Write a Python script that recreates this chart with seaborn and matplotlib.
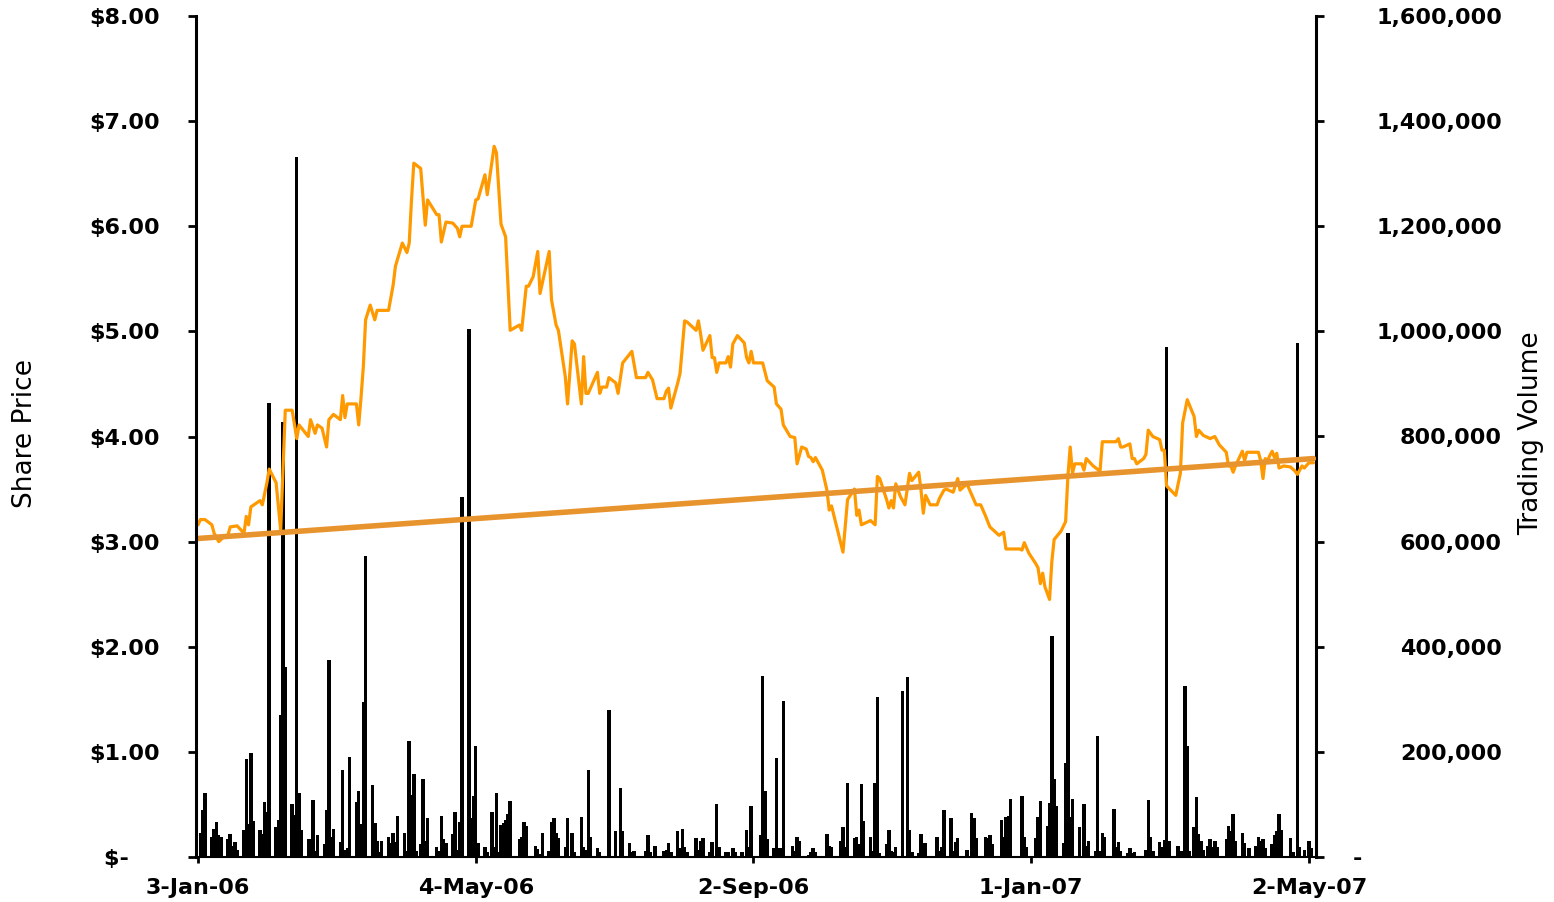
import matplotlib
matplotlib.use("Agg")
import matplotlib.pyplot as plt
import matplotlib.ticker as mticker
import seaborn as sns
import numpy as np
import pandas as pd

# calendar days counted from the first trading day
start = pd.Timestamp("2006-01-03")

price_day = [0, 1, 3, 6, 7, 9, 11, 13, 14, 17, 20, 21, 22, 23, 27, 28, 30, 31, 34, 36,
             38, 41, 43, 44, 48, 49, 51, 52, 54, 56, 57, 59, 62, 63, 64, 65, 69, 70, 71, 72,
             73, 75, 77, 78, 83, 85, 86, 89, 91, 92, 93, 94, 97, 99, 100, 104, 105, 106, 108, 111,
             113, 114, 115, 119, 121, 122, 125, 126, 129, 130, 132, 134, 136, 140, 141, 143, 144, 146, 148, 149,
             153, 154, 156, 157, 160, 161, 163, 164, 167, 168, 169, 170, 172, 174, 175, 176, 178, 179, 182, 183,
             185, 189, 191, 195, 196, 198, 200, 203, 204, 205, 206, 209, 210, 212, 213, 217, 218, 219, 220, 223,
             224, 225, 226, 227, 230, 231, 232, 233, 235, 238, 239, 240, 241, 242, 246, 248, 251, 252, 254, 255,
             258, 260, 261, 263, 265, 266, 267, 268, 269, 272, 274, 275, 276, 281, 283, 286, 287, 288, 289, 293,
             295, 296, 297, 300, 301, 302, 303, 304, 306, 308, 310, 311, 314, 315, 316, 317, 319, 322, 323, 325,
             326, 329, 331, 332, 335, 339, 341, 343, 345, 346, 349, 351, 352, 358, 359, 360, 362, 365, 366, 367,
             368, 369, 371, 372, 373, 376, 378, 379, 380, 381, 382, 385, 386, 387, 390, 393, 394, 400, 401, 402,
             403, 406, 407, 408, 409, 412, 413, 414, 416, 419, 420, 421, 422, 426, 428, 429, 431, 434, 435, 436,
             438, 441, 443, 445, 448, 449, 450, 451, 452, 455, 456, 457, 462, 463, 464, 465, 466, 467, 468, 469,
             470, 471, 473, 476, 478, 479, 481, 482, 484, 486]
price = [3.16, 3.21, 3.21, 3.16, 3.08, 3.00, 3.04, 3.06, 3.14, 3.15, 3.08, 3.24, 3.16, 3.33, 3.39, 3.35, 3.56, 3.69, 3.56, 3.11,
         4.25, 4.25, 3.98, 4.11, 4.00, 4.16, 4.03, 4.11, 4.08, 3.90, 4.16, 4.21, 4.16, 4.39, 4.18, 4.31, 4.31, 4.11, 4.37, 4.66,
         5.11, 5.25, 5.11, 5.20, 5.20, 5.44, 5.62, 5.84, 5.75, 5.84, 6.25, 6.60, 6.55, 6.01, 6.25, 6.11, 6.11, 5.85, 6.04, 6.03,
         5.98, 5.90, 6.00, 6.00, 6.25, 6.26, 6.49, 6.30, 6.76, 6.70, 6.02, 5.90, 5.01, 5.06, 5.01, 5.43, 5.43, 5.52, 5.76, 5.36,
         5.76, 5.30, 5.06, 5.01, 4.57, 4.31, 4.91, 4.88, 4.31, 4.76, 4.41, 4.41, 4.51, 4.61, 4.41, 4.47, 4.47, 4.56, 4.51, 4.41,
         4.70, 4.81, 4.56, 4.56, 4.61, 4.54, 4.36, 4.36, 4.43, 4.46, 4.27, 4.51, 4.60, 5.10, 5.09, 5.01, 5.10, 4.97, 4.82, 4.96,
         4.75, 4.75, 4.61, 4.70, 4.70, 4.76, 4.66, 4.88, 4.96, 4.89, 4.75, 4.70, 4.81, 4.70, 4.70, 4.53, 4.47, 4.31, 4.26, 4.11,
         4.00, 3.99, 3.74, 3.90, 3.88, 3.81, 3.80, 3.76, 3.80, 3.68, 3.49, 3.30, 3.34, 2.90, 3.40, 3.50, 3.25, 3.30, 3.16, 3.20,
         3.16, 3.62, 3.60, 3.40, 3.32, 3.39, 3.32, 3.55, 3.43, 3.35, 3.65, 3.58, 3.66, 3.49, 3.27, 3.44, 3.35, 3.35, 3.41, 3.49,
         3.50, 3.47, 3.60, 3.49, 3.55, 3.35, 3.35, 3.25, 3.14, 3.12, 3.06, 3.09, 2.93, 2.93, 2.92, 2.99, 2.89, 2.79, 2.75, 2.60,
         2.70, 2.57, 2.45, 2.81, 3.02, 3.10, 3.19, 3.62, 3.90, 3.65, 3.74, 3.74, 3.68, 3.79, 3.72, 3.67, 3.95, 3.95, 3.98, 3.90,
         3.90, 3.93, 3.79, 3.79, 3.74, 3.79, 3.83, 4.06, 4.00, 3.97, 3.87, 3.87, 3.53, 3.44, 3.65, 4.13, 4.35, 4.19, 4.00, 4.06,
         4.01, 3.98, 4.00, 3.92, 3.85, 3.72, 3.72, 3.66, 3.72, 3.86, 3.77, 3.85, 3.85, 3.77, 3.60, 3.79, 3.77, 3.82, 3.86, 3.80,
         3.84, 3.70, 3.72, 3.71, 3.67, 3.64, 3.72, 3.70, 3.75, 3.75]

vol_day = [1, 2, 3, 6, 7, 8, 9, 10, 13, 14, 15, 16, 17, 20, 21, 22, 23, 24, 27, 28,
           29, 30, 31, 34, 35, 36, 37, 38, 41, 42, 43, 44, 45, 48, 49, 50, 51, 52, 55, 56,
           57, 58, 59, 62, 63, 64, 65, 66, 69, 70, 71, 72, 73, 76, 77, 78, 79, 80, 83, 84,
           85, 86, 87, 90, 91, 92, 93, 94, 95, 97, 98, 99, 100, 104, 105, 106, 107, 108, 111, 112,
           113, 114, 115, 118, 119, 120, 121, 122, 125, 126, 128, 129, 130, 131, 132, 133, 134, 135, 136, 140,
           141, 142, 143, 147, 148, 149, 150, 153, 154, 155, 156, 157, 160, 161, 163, 164, 167, 168, 169, 170,
           171, 174, 175, 179, 182, 184, 185, 188, 189, 190, 195, 196, 197, 199, 203, 204, 205, 206, 209, 210,
           211, 212, 213, 217, 218, 219, 220, 223, 224, 226, 227, 230, 231, 233, 234, 237, 239, 240, 241, 245,
           246, 247, 248, 251, 252, 253, 254, 255, 259, 260, 261, 262, 266, 267, 268, 269, 274, 275, 276, 280,
           281, 282, 283, 286, 287, 288, 289, 290, 293, 294, 295, 296, 297, 300, 301, 302, 303, 304, 307, 309,
           310, 311, 314, 315, 316, 317, 322, 323, 324, 325, 328, 329, 330, 331, 335, 337, 338, 339, 343, 344,
           345, 346, 350, 351, 352, 353, 354, 359, 360, 361, 365, 366, 367, 370, 371, 372, 373, 374, 377, 378,
           379, 380, 381, 384, 386, 387, 388, 391, 392, 393, 394, 395, 399, 400, 401, 402, 405, 406, 407, 408,
           413, 414, 415, 416, 419, 420, 421, 422, 423, 427, 428, 429, 430, 431, 432, 434, 435, 436, 437, 438,
           440, 441, 442, 443, 444, 448, 449, 450, 451, 452, 455, 456, 458, 461, 462, 463, 464, 465, 468, 469,
           470, 471, 472, 476, 477, 479, 480, 482, 484, 485]
volume_k = [46, 89, 121, 38, 53, 67, 42, 38, 35, 44, 21, 29, 13, 51, 187, 62, 198, 68, 51, 43,
            104, 86, 864, 57, 70, 270, 828, 362, 101, 79, 1332, 122, 52, 35, 35, 108, 11, 42, 25, 89,
            375, 39, 53, 29, 166, 13, 17, 190, 104, 126, 62, 294, 573, 137, 65, 30, 10, 30, 38, 27,
            46, 29, 78, 46, 11, 221, 118, 157, 11, 25, 149, 30, 74, 19, 11, 78, 34, 27, 43, 86,
            13, 67, 685, 1005, 75, 116, 211, 27, 19, 10, 86, 19, 122, 10, 61, 65, 71, 81, 106, 34,
            38, 67, 59, 21, 15, 5, 46, 11, 67, 74, 46, 37, 19, 74, 46, 10, 76, 19, 14, 166,
            38, 17, 10, 280, 49, 131, 49, 27, 10, 11, 11, 42, 10, 21, 11, 13, 27, 10, 49, 18,
            54, 19, 10, 36, 13, 30, 36, 10, 29, 101, 19, 10, 10, 17, 10, 10, 51, 19, 97, 42,
            344, 126, 34, 17, 188, 17, 17, 297, 21, 11, 38, 30, 4, 10, 17, 10, 43, 21, 19, 30,
            57, 19, 141, 36, 38, 25, 139, 68, 38, 11, 141, 304, 8, 25, 51, 11, 10, 19, 316, 343,
            51, 10, 8, 44, 27, 27, 38, 11, 19, 89, 74, 11, 29, 36, 13, 84, 74, 36, 38, 36,
            42, 25, 70, 38, 76, 78, 110, 116, 38, 19, 36, 76, 107, 59, 103, 421, 148, 97, 27, 179,
            617, 76, 110, 57, 101, 21, 30, 11, 230, 11, 46, 38, 91, 19, 29, 11, 8, 17, 8, 10,
            13, 108, 38, 11, 29, 19, 33, 971, 30, 21, 11, 11, 325, 211, 11, 57, 114, 44, 30, 13,
            21, 34, 19, 30, 19, 34, 59, 50, 82, 30, 46, 27, 17, 21, 38, 30, 34, 17, 25, 42,
            50, 82, 51, 36, 10, 978, 19, 14, 30, 17]

# linear trend line as drawn in the chart (start / end value)
trend_ends = [3.03, 3.79]

x_tick_labels = ["3-Jan-06", "4-May-06", "2-Sep-06", "1-Jan-07", "2-May-07"]
price_ticks = [0, 1, 2, 3, 4, 5, 6, 7, 8]
volume_ticks = [0, 200000, 400000, 600000, 800000, 1000000, 1200000, 1400000, 1600000]

sns.set_theme(style="white")
plt.rcParams["font.family"] = ["DejaVu Sans"]

W, H = 1554, 902
fig = plt.figure(figsize=(W / 100, H / 100), dpi=100)
ax = fig.add_axes([196 / W, 1 - 857 / H, 1120 / W, 841 / H])
ax2 = ax.twinx()

price_df = pd.DataFrame({"date": start + pd.to_timedelta(price_day, unit="D"), "price": price})
vol_df = pd.DataFrame({"date": start + pd.to_timedelta(vol_day, unit="D"),
                       "volume": np.array(volume_k) * 1000})
trend_df = pd.DataFrame({"date": price_df["date"].iloc[[0, -1]].values, "price": trend_ends})

# volume bars on the secondary axis, behind the price line
ax2.bar(vol_df["date"], vol_df["volume"], width=1.5, color="black", linewidth=0)
sns.lineplot(data=price_df, x="date", y="price", ax=ax, color="#FF9900", linewidth=2.3)
sns.lineplot(data=trend_df, x="date", y="price", ax=ax, color="#E8942E", linewidth=4.0)

ax.set_zorder(ax2.get_zorder() + 1)
ax.patch.set_visible(False)

ax.set_xlim(start - pd.Timedelta(days=0.9), start + pd.Timedelta(days=487.1))
ax.set_ylim(0, 8)
ax2.set_ylim(0, 1600000)

tick_dates = pd.to_datetime(x_tick_labels, format="%d-%b-%y")
ax.set_xticks(tick_dates)
ax.set_xticklabels(x_tick_labels)
ax.set_yticks(price_ticks)
ax.yaxis.set_major_formatter(mticker.FuncFormatter(
    lambda v, p: "$-\u2007\u2007" if v == 0 else f"${v:.2f}"))
ax2.set_yticks(volume_ticks)
ax2.yaxis.set_major_formatter(mticker.FuncFormatter(
    lambda v, p: "-" + "\u2007" * 9 if v == 0 else f"{v:,.0f}"))

ax.set_xlabel("")
ax.set_ylabel("Share Price", fontsize=19, color="black")
ax.yaxis.set_label_coords(-0.141, 0.504)
ax2.set_ylabel("Trading Volume", fontsize=19, color="black")
ax2.yaxis.set_label_coords(1.1804, 0.504)

for a in (ax, ax2):
    for s in a.spines.values():
        s.set_visible(False)
ax.spines["left"].set_visible(True)
ax.spines["left"].set_color("black")
ax.spines["left"].set_linewidth(2.2)
ax.spines["bottom"].set_visible(True)
ax.spines["bottom"].set_color("black")
ax.spines["bottom"].set_linewidth(1.5)
ax2.spines["right"].set_visible(True)
ax2.spines["right"].set_color("black")
ax2.spines["right"].set_linewidth(2.2)

ax.tick_params(axis="y", left=True, direction="out", length=6, width=2, color="black",
               labelsize=16, pad=20)
ax.tick_params(axis="x", bottom=True, direction="out", length=4, width=2, color="black",
               labelsize=16, pad=11)
ax2.tick_params(axis="y", right=True, direction="out", length=6, width=2, color="black",
                labelsize=16, pad=128)
for t in ax2.yaxis.get_major_ticks():
    t.label2.set_horizontalalignment("right")
for lbl in ax.get_xticklabels() + ax.get_yticklabels() + ax2.get_yticklabels():
    lbl.set_fontweight("bold")
    lbl.set_color("black")

ax.grid(False)
ax2.grid(False)

fig.savefig("out.png", dpi=100)
